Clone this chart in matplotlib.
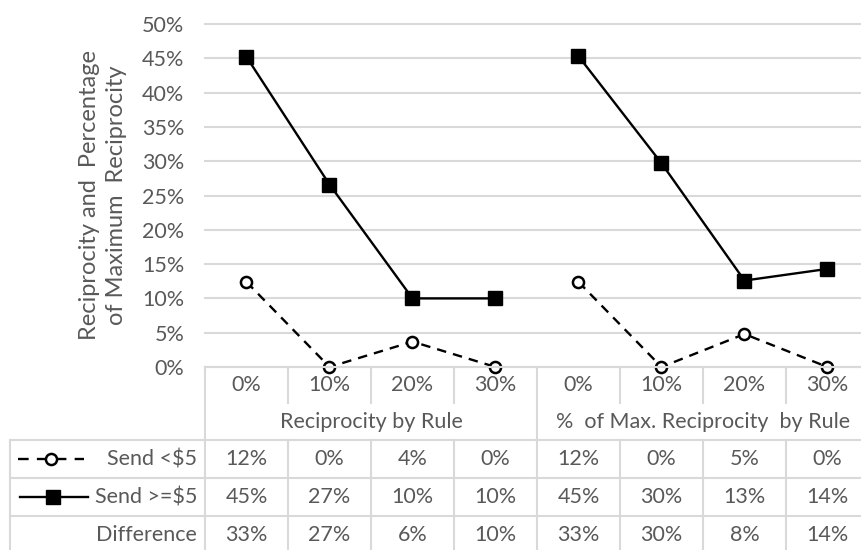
import numpy as np
import matplotlib.pyplot as plt

plt.rcParams['font.family'] = ['Lato', 'DejaVu Sans']

# data (percent)
categories = ['0%', '10%', '20%', '30%', '0%', '10%', '20%', '30%']
groups = ['Reciprocity by Rule', '%  of Max. Reciprocity  by Rule']
send_low = [12.4, 0.0, 3.7, 0.0, 12.4, 0.0, 4.8, 0.0]
send_high = [45.2, 26.6, 10.0, 10.0, 45.3, 29.7, 12.6, 14.3]
row_names = ['Send <$5', 'Send >=$5', 'Difference']
y_ticks = [0, 5, 10, 15, 20, 25, 30, 35, 40, 45, 50]

TXT = '#595959'
GRID = '#d9d9d9'
W, H = 862, 550
LEFT, CW = 205, 83          # plot left edge and column width in pixels
TOP, BOT = 24, 367          # 50% and 0% in pixels
DASH = (0, (4, 3))

fig = plt.figure(figsize=(W / 100, H / 100), dpi=100)
ax = fig.add_axes([LEFT / W, (H - BOT) / H, 8 * CW / W, (BOT - TOP) / H])

x = np.arange(len(categories))
for g in range(2):
    idx = x[g * 4:(g + 1) * 4]
    ax.plot(idx, send_low[g * 4:(g + 1) * 4], color='black', lw=1.7,
            ls=DASH, marker='o', ms=8, mfc='white', mec='black',
            mew=1.8, clip_on=False, zorder=3)
    ax.plot(idx, send_high[g * 4:(g + 1) * 4], color='black', lw=1.7,
            marker='s', ms=9.5, mfc='black', mec='black', clip_on=False, zorder=3)

ax.set_xlim(-0.5, 7.5)
ax.set_ylim(0, 50)
ax.set_yticks(y_ticks)
ax.set_yticklabels([f'{t}%' for t in y_ticks])
ax.set_xticks([])
ax.tick_params(axis='y', length=0, pad=15, labelsize=15.5, labelcolor=TXT)
for t in y_ticks:
    ax.axhline(t, color=GRID, lw=1.5, zorder=0, clip_on=False)
for s in ax.spines.values():
    s.set_visible(False)

fig.text(103 / W, 1 - 195 / H,
         'Reciprocity and  Percentage\nof Maximum  Reciprocity',
         rotation=90, ha='center', va='center', fontsize=17, color=TXT,
         linespacing=1.35)

# data table below the plot
tb = fig.add_axes([0, 0, (LEFT + 8 * CW) / W, (H - BOT) / H])
tb.set_xlim(-0.5 - LEFT / CW, 7.5)
tb.set_ylim(H - BOT, 0)
tb.axis('off')


def px(v):
    return -0.5 + (v - LEFT) / CW


r_head, r_grp, r1, r2, r3 = 0, 36, 73, 111, 149
lk = dict(color=GRID, lw=1.5, clip_on=False)
tb.plot([-0.5, 7.5], [0, 0], **lk)
for r in [r1, r2, r3]:
    tb.plot([px(10), 7.5], [r, r], **lk)
tb.plot([px(10), px(10)], [r1, H - BOT], **lk)
tb.plot([-0.5, -0.5], [0, H - BOT], **lk)
tb.plot([3.5, 3.5], [0, H - BOT], **lk)
for k in [0.5, 1.5, 2.5, 4.5, 5.5, 6.5]:
    tb.plot([k, k], [0, r_grp], **lk)
    tb.plot([k, k], [r1, H - BOT], **lk)

fs = 15.5
for i, c in enumerate(categories):
    tb.text(i, 18, c, ha='center', va='center', fontsize=fs, color=TXT)
tb.text(1.5, 55, groups[0], ha='center', va='center', fontsize=fs, color=TXT)
tb.text(5.5, 55, groups[1], ha='center', va='center', fontsize=fs, color=TXT)

diff = [h - l for h, l in zip(send_high, send_low)]
for row_y, vals in zip([92, 130, 168], [send_low, send_high, diff]):
    for i, v in enumerate(vals):
        tb.text(i, row_y, f'{v:.0f}%', ha='center', va='center',
                fontsize=fs, color=TXT)
for row_y, name in zip([92, 130, 168], row_names):
    tb.text(px(197), row_y, name, ha='right', va='center', fontsize=fs,
            color=TXT)

# legend keys inside the table
tb.plot([px(18), px(84)], [92, 92], color='black', lw=1.7, ls=(0, (4.5, 3.5)))
tb.plot([px(51)], [92], marker='o', ms=8, mfc='white', mec='black', mew=1.8)
tb.plot([px(20), px(88)], [130, 130], color='black', lw=1.7)
tb.plot([px(53)], [130], marker='s', ms=9.5, color='black')

fig.savefig('out.png', dpi=100)
